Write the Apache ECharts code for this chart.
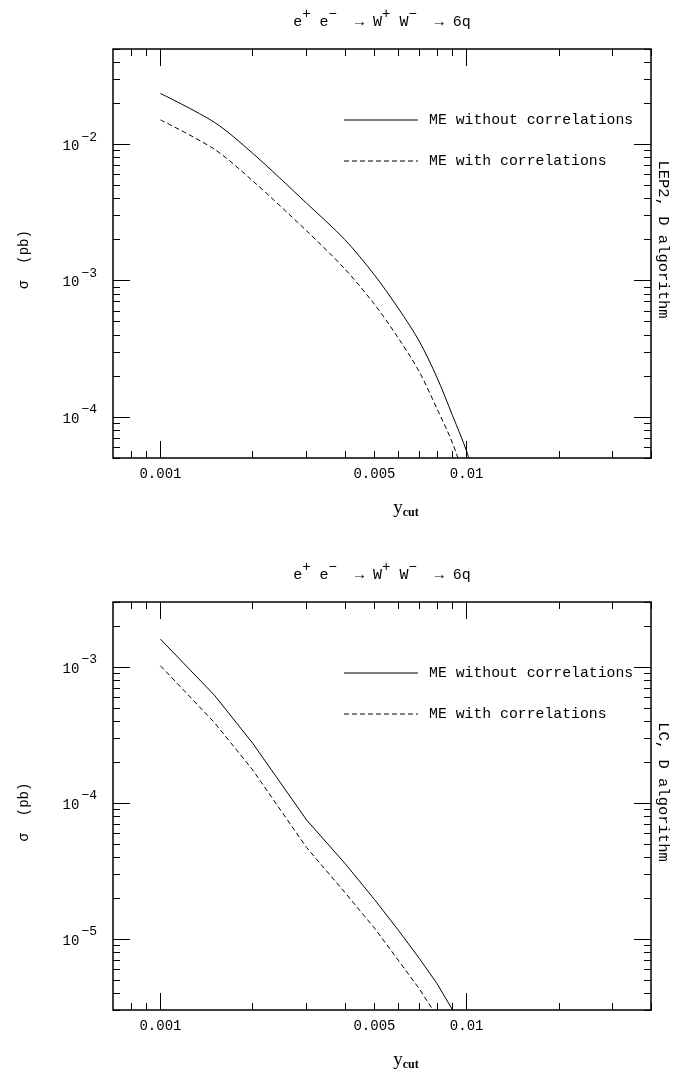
<!DOCTYPE html>
<html><head><meta charset="utf-8">
<script src="https://cdn.jsdelivr.net/npm/echarts@6/dist/echarts.min.js"></script>
<style>html,body{margin:0;padding:0;background:#fff}#c{width:673px;height:1072px}</style>
</head><body><div id="c"></div>
<script>
// ---------- data ----------
const ycut = [0.001, 0.0015, 0.002, 0.003, 0.004, 0.005, 0.006, 0.007, 0.008, 0.009, 0.01, 0.011];
const lepNoCorr = [0.0236, 0.0145, 0.0086, 0.0037, 0.0020, 0.0011, 0.00062, 0.00036, 0.000195, 0.000102, 0.000056, 0.000028];
const lepCorr   = [0.0151, 0.0092, 0.0054, 0.00232, 0.00122, 0.00067, 0.000375, 0.000215, 0.000115, 0.000064, 0.000032, 0.000016];
const lcNoCorr  = [1.60e-3, 6.2e-4, 2.75e-4, 7.5e-5, 3.6e-5, 1.95e-5, 1.15e-5, 7.2e-6, 4.7e-6, 3.0e-6, 1.9e-6, 1.2e-6];
const lcCorr    = [1.02e-3, 3.9e-4, 1.75e-4, 4.7e-5, 2.2e-5, 1.2e-5, 6.9e-6, 4.3e-6, 2.7e-6, 1.7e-6, 1.1e-6, 0.7e-6];

const seriesNames = ['ME without correlations', 'ME with correlations'];
const panelLabels = ['LEP2, D algorithm', 'LC, D algorithm'];

const xRange = [0.0007, 0.04];
const xMajorTicks = [0.001, 0.01];
const xMinorTicks = [0.0008, 0.0009, 0.002, 0.003, 0.004, 0.005, 0.006, 0.007, 0.008, 0.009, 0.02, 0.03, 0.04];
const xLabelValues = [0.001, 0.005, 0.01];
const xLabelTexts = ['0.001', '0.005', '0.01'];

const yRangeTop = [5e-5, 0.05];
const yMajorTop = [1e-4, 1e-3, 1e-2];
const yMinorTop = [5e-5, 6e-5, 7e-5, 8e-5, 9e-5, 2e-4, 3e-4, 4e-4, 5e-4, 6e-4, 7e-4, 8e-4, 9e-4,
  2e-3, 3e-3, 4e-3, 5e-3, 6e-3, 7e-3, 8e-3, 9e-3, 2e-2, 3e-2, 4e-2, 5e-2];

const yRangeBot = [3e-6, 3e-3];
const yMajorBot = [1e-5, 1e-4, 1e-3];
const yMinorBot = [3e-6, 4e-6, 5e-6, 6e-6, 7e-6, 8e-6, 9e-6, 2e-5, 3e-5, 4e-5, 5e-5, 6e-5, 7e-5, 8e-5, 9e-5,
  2e-4, 3e-4, 4e-4, 5e-4, 6e-4, 7e-4, 8e-4, 9e-4, 2e-3, 3e-3];

// ---------- layout ----------
const MONO = 'Liberation Mono';
const grids = [
  { left: 113, top: 49, width: 538, height: 409 },
  { left: 113, top: 602, width: 538, height: 408 }
];
const MAJ = 17, MIN = 7;

function xAxisDef(g, pos, ticks, len, labels) {
  return {
    type: 'log', gridIndex: g, position: pos, min: xRange[0], max: xRange[1],
    axisLine: { show: false, onZero: false },
    splitLine: { show: false },
    axisTick: { show: true, inside: true, length: len, customValues: ticks, lineStyle: { color: '#000', width: 1 } },
    axisLabel: labels ? {
      show: true, customValues: xLabelValues, margin: 9, color: '#000', fontFamily: MONO, fontSize: 14,
      formatter: v => { const i = xLabelValues.findIndex(t => Math.abs(t - v) / t < 1e-6); return i >= 0 ? xLabelTexts[i] : ''; }
    } : { show: false }
  };
}
function yAxisDef(g, pos, range, ticks, len, labels, labVals) {
  return {
    type: 'log', gridIndex: g, position: pos, min: range[0], max: range[1],
    axisLine: { show: false, onZero: false },
    splitLine: { show: false },
    axisTick: { show: true, inside: true, length: len, customValues: ticks, lineStyle: { color: '#000', width: 1 } },
    axisLabel: labels ? {
      show: true, customValues: labVals, margin: 16, color: '#000',
      formatter: v => '{b|10}{s|\u2212' + (-Math.round(Math.log10(v))) + '}',
      rich: {
        b: { fontFamily: MONO, fontSize: 14, lineHeight: 15, padding: [4, 0, 0, 0], color: '#000' },
        s: { fontFamily: MONO, fontSize: 13, lineHeight: 13, padding: [0, 0, 14, 2], color: '#000' }
      }
    } : { show: false }
  };
}

const xAxes = [], yAxes = [];
[0, 1].forEach(g => {
  xAxes.push(xAxisDef(g, 'bottom', xMajorTicks, MAJ, true));
  xAxes.push(xAxisDef(g, 'bottom', xMinorTicks, MIN, false));
  xAxes.push(xAxisDef(g, 'top', xMajorTicks, MAJ, false));
  xAxes.push(xAxisDef(g, 'top', xMinorTicks, MIN, false));
  const r = g === 0 ? yRangeTop : yRangeBot;
  const maj = g === 0 ? yMajorTop : yMajorBot;
  const min = g === 0 ? yMinorTop : yMinorBot;
  yAxes.push(yAxisDef(g, 'left', r, maj, MAJ, true, maj));
  yAxes.push(yAxisDef(g, 'left', r, min, MIN, false));
  yAxes.push(yAxisDef(g, 'right', r, maj, MAJ, false));
  yAxes.push(yAxisDef(g, 'right', r, min, MIN, false));
});

function pairs(vals) { return ycut.map((x, i) => [x, vals[i]]); }
function lineSeries(name, g, vals, dashed) {
  return {
    type: 'line', name, xAxisIndex: g * 4, yAxisIndex: g * 4, data: pairs(vals),
    symbol: 'none', showSymbol: false, clip: true, silent: true,
    smooth: g === 0 ? 0.3 : false,
    lineStyle: { color: '#000', width: 1, type: dashed ? [5, 3] : 'solid' },
    itemStyle: { color: '#000' }
  };
}

const titleRich = {
  n: { fontFamily: MONO, fontSize: 15, lineHeight: 16, fill: '#000' },
  s: { fontFamily: MONO, fontSize: 14, lineHeight: 14, padding: [0, 0, 16, 0], fill: '#000' }
};
const titleText = '{n|e}{s|+}{n| e}{s|\u2212}{n|  \u2192 W}{s|+}{n| W}{s|\u2212}{n|  \u2192 6q}';
const ycutRich = {
  y: { fontFamily: 'Liberation Serif', fontSize: 19, lineHeight: 18, fill: '#000' },
  c: { fontFamily: 'Liberation Serif', fontSize: 12, fontWeight: 'bold', lineHeight: 12, padding: [10, 0, 0, 0], fill: '#000' }
};

const graphics = [];
[0, 1].forEach(g => {
  const gr = grids[g];
  const cy = gr.top + gr.height / 2;
  graphics.push({ type: 'text', x: 382, y: gr.top - 27, style: { text: titleText, rich: titleRich, align: 'center', verticalAlign: 'middle' } });
  graphics.push({ type: 'text', x: 406, y: gr.top + gr.height + 50, style: { text: '{y|y}{c|cut}', rich: ycutRich, align: 'center', verticalAlign: 'middle' } });
  graphics.push({ type: 'text', x: 24, y: cy + 6, rotation: Math.PI / 2, style: { text: '\u03c3  (pb)', fontFamily: MONO, fontSize: 14, fill: '#000', align: 'center', verticalAlign: 'middle' } });
  graphics.push({ type: 'text', x: 663, y: cy - 14, rotation: -Math.PI / 2, style: { text: panelLabels[g], fontFamily: MONO, fontSize: 15.5, fill: '#000', align: 'center', verticalAlign: 'middle' } });
  // legend samples
  const ly = [gr.top + 71, gr.top + 112];
  seriesNames.forEach((nm, i) => {
    graphics.push({ type: 'line', shape: { x1: 344, y1: ly[i], x2: 418, y2: ly[i] },
      style: { stroke: '#000', lineWidth: 1, lineDash: i === 1 ? [5, 3] : null } });
    graphics.push({ type: 'text', x: 429, y: ly[i], style: { text: nm, fontFamily: MONO, fontSize: 14.8, fill: '#000', align: 'left', verticalAlign: 'middle' } });
  });
});

const option = {
  animation: false,
  backgroundColor: '#fff',
  grid: grids.map(g => Object.assign({ show: true, borderColor: '#000', borderWidth: 1.5, backgroundColor: 'transparent', containLabel: false }, g)),
  xAxis: xAxes,
  yAxis: yAxes,
  graphic: graphics,
  series: [
    lineSeries(seriesNames[0], 0, lepNoCorr, false),
    lineSeries(seriesNames[1], 0, lepCorr, true),
    lineSeries(seriesNames[0], 1, lcNoCorr, false),
    lineSeries(seriesNames[1], 1, lcCorr, true)
  ]
};
const chart = echarts.init(document.getElementById('c'), null, { renderer: 'canvas' });
chart.setOption(option);
</script></body></html>
